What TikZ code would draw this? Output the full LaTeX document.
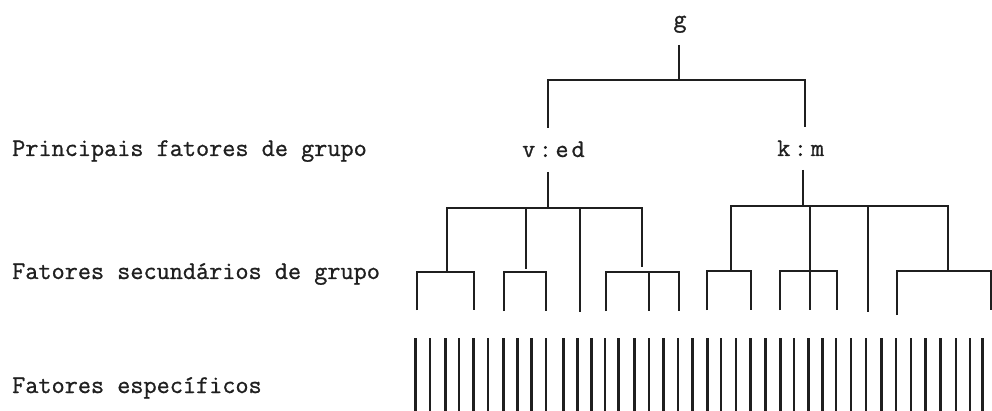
\documentclass[tikz,border=0pt]{standalone}
\usepackage{fontspec}
\setmonofont[FakeBold=0.9]{Latin Modern Mono}
\begin{document}
\begin{tikzpicture}[x=1pt,y=-1pt,
  lbl/.style={font=\ttfamily\fontsize{25.5}{29}\selectfont,inner sep=0pt,anchor=base west,text=black!88},
  fac/.style={font=\ttfamily\fontsize{25.5}{29}\selectfont,inner sep=0pt,anchor=base,text=black!88},
  ln/.style={line width=2.1pt,color=black!88,line cap=butt},
  sp/.style={line width=2.5pt,color=black!88}]
\useasboundingbox (0,0) rectangle (992,411);
% labels
\node[lbl] (l1) at (12,156) {Principais fatores de grupo};
\node[lbl] (l2) at (12,279) {Fatores secundários de grupo};
\node[lbl] (l3) at (12,393) {Fatores específicos};
% factor nodes
\node[fac] (g) at (680,27) {g};
\node[fac,anchor=base west] (v) at (522,157) {v\hspace{3.5pt}:\hspace{3.5pt}e\hspace{3pt}d};
\node[fac,anchor=base west] (k) at (777,156) {k\hspace{3.5pt}:\hspace{4pt}m};
% junction coordinates
\coordinate (gt) at (679,45);
\coordinate (gb) at (679,80);
\coordinate (vt) at (548,80);
\coordinate (vb) at (548,128);
\coordinate (kt) at (805,80);
\coordinate (kb) at (805,127);
% top level
\draw[ln] (gt) -- (gb);
\draw[ln] (vb) -- (vt) -- (kt) -- (kb);
% group stems
\draw[ln] (548,172) -- (548,208);
\draw[ln] (803,170) -- (803,206);
% left group
\draw[ln] (447,271) -- (447,208) -- (642,208) -- (642,267);
\draw[ln] (526,208) -- (526,269);
\draw[ln] (580,208) -- (580,312);
% left brackets
\draw[ln] (417,310) -- (417,272) -- (474,272) -- (474,310);
\draw[ln] (504,311) -- (504,272) -- (546,272) -- (546,311);
\draw[ln] (606,311) -- (606,272) -- (679,272) -- (679,311);
\draw[ln] (649,272) -- (649,311);
% right group
\draw[ln] (731,271) -- (731,206) -- (948,206) -- (948,271);
\draw[ln] (810,206) -- (810,310);
\draw[ln] (868,206) -- (868,312);
% right brackets
\draw[ln] (707,310) -- (707,271) -- (751,271) -- (751,310);
\draw[ln] (780,310) -- (780,271) -- (837,271) -- (837,310);
\draw[ln] (897,315) -- (897,271) -- (991,271) -- (991,310);
% specific factors
\foreach \x in {415.7,430,445.7,459,473.3,488,503.3,517.3,531.7,546,563.3,577.7,591.7,605,618.3,634.3,649,663.3,678,692.7,707.3,721,736,750.7,765.3,780.3,794,808.3,822.3,836,851,866,881.7,896,911,925.7,940.7,956,970,982.3}
  \draw[sp] (\x,338) -- (\x,411);
\end{tikzpicture}
\end{document}
